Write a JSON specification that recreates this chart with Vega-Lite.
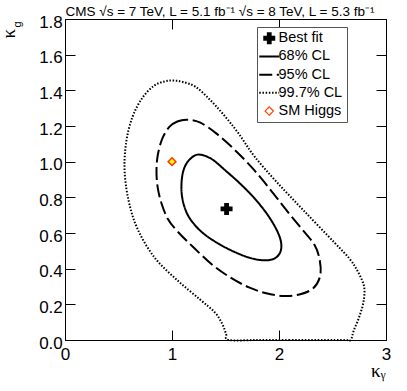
{
  "$schema": "https://vega.github.io/schema/vega-lite/v6.json",
  "autosize": "none",
  "width": 321,
  "height": 321,
  "padding": {"left": 65, "top": 19, "right": 21, "bottom": 51},
  "background": "white",
  "datasets": {
    "closed": [
      {"series": "68% CL", "i": 0, "kappa_gamma": 1.25, "kappa_g": 1.04},
      {"series": "68% CL", "i": 1, "kappa_gamma": 1.17, "kappa_g": 1.015},
      {"series": "68% CL", "i": 2, "kappa_gamma": 1.115, "kappa_g": 0.965},
      {"series": "68% CL", "i": 3, "kappa_gamma": 1.09, "kappa_g": 0.89},
      {"series": "68% CL", "i": 4, "kappa_gamma": 1.095, "kappa_g": 0.8},
      {"series": "68% CL", "i": 5, "kappa_gamma": 1.14, "kappa_g": 0.71},
      {"series": "68% CL", "i": 6, "kappa_gamma": 1.22, "kappa_g": 0.64},
      {"series": "68% CL", "i": 7, "kappa_gamma": 1.32, "kappa_g": 0.585},
      {"series": "68% CL", "i": 8, "kappa_gamma": 1.45, "kappa_g": 0.535},
      {"series": "68% CL", "i": 9, "kappa_gamma": 1.58, "kappa_g": 0.495},
      {"series": "68% CL", "i": 10, "kappa_gamma": 1.72, "kappa_g": 0.462},
      {"series": "68% CL", "i": 11, "kappa_gamma": 1.85, "kappa_g": 0.447},
      {"series": "68% CL", "i": 12, "kappa_gamma": 1.95, "kappa_g": 0.455},
      {"series": "68% CL", "i": 13, "kappa_gamma": 2.01, "kappa_g": 0.49},
      {"series": "68% CL", "i": 14, "kappa_gamma": 2.02, "kappa_g": 0.545},
      {"series": "68% CL", "i": 15, "kappa_gamma": 1.98, "kappa_g": 0.615},
      {"series": "68% CL", "i": 16, "kappa_gamma": 1.89, "kappa_g": 0.705},
      {"series": "68% CL", "i": 17, "kappa_gamma": 1.77, "kappa_g": 0.795},
      {"series": "68% CL", "i": 18, "kappa_gamma": 1.64, "kappa_g": 0.875},
      {"series": "68% CL", "i": 19, "kappa_gamma": 1.5, "kappa_g": 0.95},
      {"series": "68% CL", "i": 20, "kappa_gamma": 1.37, "kappa_g": 1.015},
      {"series": "95% CL", "i": 0, "kappa_gamma": 1.14, "kappa_g": 1.235},
      {"series": "95% CL", "i": 1, "kappa_gamma": 1.05, "kappa_g": 1.225},
      {"series": "95% CL", "i": 2, "kappa_gamma": 0.975, "kappa_g": 1.195},
      {"series": "95% CL", "i": 3, "kappa_gamma": 0.91, "kappa_g": 1.13},
      {"series": "95% CL", "i": 4, "kappa_gamma": 0.868, "kappa_g": 1.04},
      {"series": "95% CL", "i": 5, "kappa_gamma": 0.855, "kappa_g": 0.95},
      {"series": "95% CL", "i": 6, "kappa_gamma": 0.865, "kappa_g": 0.86},
      {"series": "95% CL", "i": 7, "kappa_gamma": 0.9, "kappa_g": 0.77},
      {"series": "95% CL", "i": 8, "kappa_gamma": 0.96, "kappa_g": 0.68},
      {"series": "95% CL", "i": 9, "kappa_gamma": 1.05, "kappa_g": 0.61},
      {"series": "95% CL", "i": 10, "kappa_gamma": 1.2, "kappa_g": 0.52},
      {"series": "95% CL", "i": 11, "kappa_gamma": 1.38, "kappa_g": 0.42},
      {"series": "95% CL", "i": 12, "kappa_gamma": 1.56, "kappa_g": 0.345},
      {"series": "95% CL", "i": 13, "kappa_gamma": 1.72, "kappa_g": 0.295},
      {"series": "95% CL", "i": 14, "kappa_gamma": 1.88, "kappa_g": 0.262},
      {"series": "95% CL", "i": 15, "kappa_gamma": 2.04, "kappa_g": 0.247},
      {"series": "95% CL", "i": 16, "kappa_gamma": 2.19, "kappa_g": 0.255},
      {"series": "95% CL", "i": 17, "kappa_gamma": 2.32, "kappa_g": 0.29},
      {"series": "95% CL", "i": 18, "kappa_gamma": 2.385, "kappa_g": 0.36},
      {"series": "95% CL", "i": 19, "kappa_gamma": 2.38, "kappa_g": 0.45},
      {"series": "95% CL", "i": 20, "kappa_gamma": 2.33, "kappa_g": 0.535},
      {"series": "95% CL", "i": 21, "kappa_gamma": 2.21, "kappa_g": 0.625},
      {"series": "95% CL", "i": 22, "kappa_gamma": 2.06, "kappa_g": 0.735},
      {"series": "95% CL", "i": 23, "kappa_gamma": 1.91, "kappa_g": 0.85},
      {"series": "95% CL", "i": 24, "kappa_gamma": 1.75, "kappa_g": 0.965},
      {"series": "95% CL", "i": 25, "kappa_gamma": 1.58, "kappa_g": 1.07},
      {"series": "95% CL", "i": 26, "kappa_gamma": 1.41, "kappa_g": 1.16},
      {"series": "95% CL", "i": 27, "kappa_gamma": 1.26, "kappa_g": 1.22}
    ],
    "dotted": [
      {"series": "99.7% CL", "i": 0, "kappa_gamma": 2.1, "kappa_g": 0.0},
      {"series": "99.7% CL", "i": 1, "kappa_gamma": 1.8, "kappa_g": 0.0},
      {"series": "99.7% CL", "i": 2, "kappa_gamma": 1.53, "kappa_g": 0.0},
      {"series": "99.7% CL", "i": 3, "kappa_gamma": 1.505, "kappa_g": 0.035},
      {"series": "99.7% CL", "i": 4, "kappa_gamma": 1.47, "kappa_g": 0.09},
      {"series": "99.7% CL", "i": 5, "kappa_gamma": 1.4, "kappa_g": 0.155},
      {"series": "99.7% CL", "i": 6, "kappa_gamma": 1.26, "kappa_g": 0.228},
      {"series": "99.7% CL", "i": 7, "kappa_gamma": 1.05, "kappa_g": 0.335},
      {"series": "99.7% CL", "i": 8, "kappa_gamma": 0.84, "kappa_g": 0.46},
      {"series": "99.7% CL", "i": 9, "kappa_gamma": 0.68, "kappa_g": 0.62},
      {"series": "99.7% CL", "i": 10, "kappa_gamma": 0.595, "kappa_g": 0.78},
      {"series": "99.7% CL", "i": 11, "kappa_gamma": 0.557, "kappa_g": 0.95},
      {"series": "99.7% CL", "i": 12, "kappa_gamma": 0.572, "kappa_g": 1.11},
      {"series": "99.7% CL", "i": 13, "kappa_gamma": 0.63, "kappa_g": 1.25},
      {"series": "99.7% CL", "i": 14, "kappa_gamma": 0.72, "kappa_g": 1.355},
      {"series": "99.7% CL", "i": 15, "kappa_gamma": 0.83, "kappa_g": 1.425},
      {"series": "99.7% CL", "i": 16, "kappa_gamma": 0.93, "kappa_g": 1.45},
      {"series": "99.7% CL", "i": 17, "kappa_gamma": 1.01, "kappa_g": 1.455},
      {"series": "99.7% CL", "i": 18, "kappa_gamma": 1.1, "kappa_g": 1.447},
      {"series": "99.7% CL", "i": 19, "kappa_gamma": 1.22, "kappa_g": 1.42},
      {"series": "99.7% CL", "i": 20, "kappa_gamma": 1.35, "kappa_g": 1.35},
      {"series": "99.7% CL", "i": 21, "kappa_gamma": 1.48, "kappa_g": 1.265},
      {"series": "99.7% CL", "i": 22, "kappa_gamma": 1.62, "kappa_g": 1.16},
      {"series": "99.7% CL", "i": 23, "kappa_gamma": 1.77, "kappa_g": 1.03},
      {"series": "99.7% CL", "i": 24, "kappa_gamma": 1.98, "kappa_g": 0.885},
      {"series": "99.7% CL", "i": 25, "kappa_gamma": 2.24, "kappa_g": 0.72},
      {"series": "99.7% CL", "i": 26, "kappa_gamma": 2.52, "kappa_g": 0.545},
      {"series": "99.7% CL", "i": 27, "kappa_gamma": 2.66, "kappa_g": 0.455},
      {"series": "99.7% CL", "i": 28, "kappa_gamma": 2.74, "kappa_g": 0.38},
      {"series": "99.7% CL", "i": 29, "kappa_gamma": 2.795, "kappa_g": 0.3},
      {"series": "99.7% CL", "i": 30, "kappa_gamma": 2.79, "kappa_g": 0.215},
      {"series": "99.7% CL", "i": 31, "kappa_gamma": 2.75, "kappa_g": 0.13},
      {"series": "99.7% CL", "i": 32, "kappa_gamma": 2.7, "kappa_g": 0.055},
      {"series": "99.7% CL", "i": 33, "kappa_gamma": 2.67, "kappa_g": 0.0},
      {"series": "99.7% CL", "i": 34, "kappa_gamma": 2.62, "kappa_g": 0.0},
      {"series": "99.7% CL", "i": 35, "kappa_gamma": 2.4, "kappa_g": 0.0},
      {"series": "99.7% CL", "i": 36, "kappa_gamma": 2.1, "kappa_g": 0.0}
    ],
    "points": [
      {"series": "Best fit", "kappa_gamma": 1.51, "kappa_g": 0.735},
      {"series": "SM Higgs", "kappa_gamma": 1.0, "kappa_g": 1.0}
    ]
  },
  "layer": [
    {
      "data": {"name": "closed"},
      "mark": {"type": "line", "interpolate": "cardinal-closed", "strokeWidth": 2, "color": "black"},
      "encoding": {
        "x": {
          "field": "kappa_gamma", "type": "quantitative",
          "scale": {"domain": [0, 3], "nice": false, "zero": false},
          "axis": {
            "orient": "bottom", "offset": -10, "values": [0, 1, 2, 3],
            "grid": true, "gridColor": "transparent", "domain": true, "domainColor": "transparent",
            "tickSize": 10, "tickColor": "black",
            "labelFont": "Liberation Sans", "labelFontSize": 17, "labelColor": "black",
            "labelPadding": 6.5, "labelFlush": false, "labelOverlap": false, "labelBaseline": "top", "format": "d",
            "title": "κᵧ", "titleFont": "Liberation Serif", "titleFontSize": 19, "titleFontWeight": "normal", "titleColor": "black",
            "titleX": 320, "titleY": 46, "titleAlign": "right", "titleBaseline": "alphabetic", "titleAngle": 0
          }
        },
        "y": {
          "field": "kappa_g", "type": "quantitative",
          "scale": {"domain": [0, 1.8], "nice": false, "zero": false},
          "axis": {
            "orient": "left", "offset": -10,
            "values": [0, 0.2, 0.4, 0.6, 0.8, 1, 1.2, 1.4, 1.6, 1.8],
            "grid": true, "gridColor": "transparent", "domain": true, "domainColor": "transparent",
            "tickSize": 10, "tickColor": "black",
            "labelFont": "Liberation Sans", "labelFontSize": 17, "labelColor": "black", "format": ".1f",
            "labelPadding": 2.7, "labelOffset": 3, "labelFlush": false, "labelOverlap": false, "labelBaseline": "middle",
            "title": "κ", "titleFont": "Liberation Serif", "titleFontSize": 19, "titleFontWeight": "normal", "titleColor": "black",
            "titleX": -61, "titleY": 19, "titleAlign": "left", "titleBaseline": "alphabetic", "titleAngle": 270
          }
        },
        "strokeDash": {
          "field": "series", "type": "nominal",
          "scale": {
            "domain": ["Best fit", "68% CL", "95% CL", "99.7% CL", "SM Higgs"],
            "range": [[1, 0], [1, 0], [13, 4.5], [1.5, 1.7], [1, 0]]
          },
          "legend": {
            "title": null, "orient": "none", "legendX": 192, "legendY": 8,
            "padding": 4, "fillColor": "white", "strokeColor": "#555555",
            "labelFont": "Liberation Sans", "labelFontSize": 14.5, "labelColor": "black",
            "labelExpr": "datum.label + '      '",
            "symbolSize": 196, "symbolStrokeWidth": 2, "symbolStrokeColor": "black",
            "symbolOffset": 1, "rowPadding": 3.2, "labelOffset": 2,
            "encode": {
              "symbols": {
                "update": {
                  "shape": {"signal": "datum.value === 'Best fit' ? 'cross' : datum.value === 'SM Higgs' ? 'diamond' : 'stroke'"},
                  "size": {"signal": "datum.value === 'Best fit' ? 144 : datum.value === 'SM Higgs' ? 70 : 400"},
                  "stroke": {"signal": "datum.value === 'SM Higgs' ? '#ff4500' : 'black'"},
                  "fill": {"signal": "datum.value === 'Best fit' ? 'black' : 'transparent'"},
                  "strokeWidth": {"signal": "datum.value === 'Best fit' ? 0 : datum.value === 'SM Higgs' ? 1.2 : 2"},
                  "strokeDash": {"signal": "datum.value === '95% CL' ? [12, 5] : datum.value === '99.7% CL' ? [1.5, 1.7] : [1, 0]"},
                  "opacity": {"value": 1}
                }
              }
            }
          }
        },
        "order": {"field": "i", "type": "quantitative"}
      }
    },
    {
      "data": {"name": "dotted"},
      "mark": {"type": "line", "interpolate": "cardinal", "strokeWidth": 2, "color": "black"},
      "encoding": {
        "x": {
          "field": "kappa_gamma", "type": "quantitative",
          "axis": {
            "orient": "top", "offset": -10, "values": [0, 1, 2, 3],
            "grid": true, "gridColor": "transparent", "domain": true, "domainColor": "transparent",
            "tickSize": 10, "tickColor": "black", "labels": false,
            "title": "CMS  √s = 7 TeV, L = 5.1 fb⁻¹  √s = 8 TeV, L = 5.3 fb⁻¹",
            "titleFont": "Liberation Sans", "titleFontSize": 13.5, "titleFontWeight": "normal", "titleColor": "black",
            "titleX": 0, "titleY": -13.5, "titleAlign": "left", "titleBaseline": "alphabetic", "titleAngle": 0
          }
        },
        "y": {
          "field": "kappa_g", "type": "quantitative",
          "axis": {
            "orient": "right", "offset": -10,
            "values": [0, 0.2, 0.4, 0.6, 0.8, 1, 1.2, 1.4, 1.6, 1.8],
            "grid": true, "gridColor": "transparent", "domain": true, "domainColor": "transparent",
            "tickSize": 10, "tickColor": "black", "labels": false,
            "title": "g", "titleFont": "Liberation Sans", "titleFontSize": 11, "titleFontWeight": "normal", "titleColor": "black",
            "titleX": -356, "titleY": 8, "titleAlign": "left", "titleBaseline": "alphabetic", "titleAngle": 270
          }
        },
        "strokeDash": {"field": "series", "type": "nominal"},
        "order": {"field": "i", "type": "quantitative"}
      }
    },
    {
      "data": {"name": "points"},
      "transform": [{"filter": "datum.series === 'Best fit'"}],
      "mark": {"type": "point", "shape": "cross", "filled": true, "fill": "black", "strokeWidth": 0, "size": 144, "opacity": 1},
      "encoding": {
        "x": {"field": "kappa_gamma", "type": "quantitative", "axis": null},
        "y": {"field": "kappa_g", "type": "quantitative", "axis": null}
      }
    },
    {
      "data": {"name": "points"},
      "transform": [{"filter": "datum.series === 'SM Higgs'"}],
      "mark": {"type": "point", "shape": "diamond", "filled": true, "fill": "#ffff00", "stroke": "#ff3300", "strokeWidth": 1.5, "size": 60, "opacity": 1},
      "encoding": {
        "x": {"field": "kappa_gamma", "type": "quantitative", "axis": null},
        "y": {"field": "kappa_g", "type": "quantitative", "axis": null}
      }
    }
  ],
  "resolve": {"axis": {"x": "independent", "y": "independent"}},
  "config": {
    "view": {"stroke": "black", "strokeWidth": 1}
  }
}
